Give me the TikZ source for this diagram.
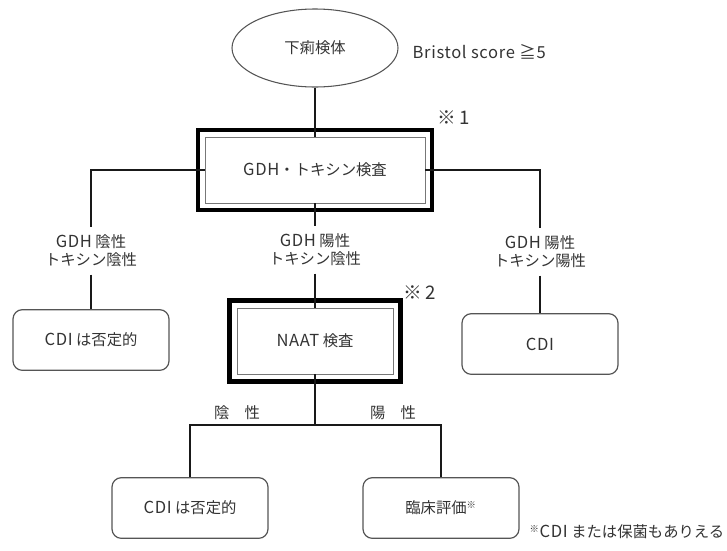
\documentclass[tikz,border=0pt]{standalone}
\usepackage{fontspec}
\setmainfont{Noto Sans CJK JP}
\newfontfamily\latinfont{Noto Sans CJK JP}[Scale=1.08, LetterSpace=4]
\newcommand\lt[1]{{\latinfont #1}}
\usetikzlibrary{positioning,shapes.geometric,fit}

\definecolor{ink}{HTML}{333333}
\definecolor{rim}{HTML}{555555}

\tikzset{
  every node/.style={text=ink, font=\fontsize{11.5}{13.5}\selectfont},
  specimen/.style={ellipse, draw=rim, line width=0.8pt, minimum width=124.5pt, minimum height=58.5pt},
  testbox/.style={draw=rim!80, line width=0.7pt, minimum height=49.5pt},
  frame/.style={draw=black, line width=3.2pt, inner sep=4.8pt},
  result/.style={draw=rim, line width=0.9pt, rounded corners=7pt, minimum width=117pt, minimum height=45.5pt},
  branch/.style={align=center, inner xsep=2pt, inner ysep=5.5pt},
  note/.style={font=\fontsize{14}{16}\selectfont},
  conn/.style={draw=black!90, line width=1.3pt}
}

\begin{document}
\begin{tikzpicture}[x=0.75pt, y=-0.75pt]
\useasboundingbox (0,0) rectangle (727,550);

% specimen
\node [specimen] (spec) at (315,48) {下痢検体};
\node [anchor=west] (bristol) at (408,52) {\lt{Bristol score ≧5}};

% first test
\node [testbox, minimum width=165pt] (gdh) at (315,170) {\lt{GDH}・トキシン検査};
\node [frame, fit=(gdh)] (gdhframe) {};
\node [note] (note1) at (454,118) {※\,1};

% results of the first test
\node [branch] (lneg) at (91,251) {\lt{GDH} 陰性\\トキシン陰性};
\node [branch] (lmid) at (315,250) {\lt{GDH} 陽性\\トキシン陰性};
\node [branch] (lpos) at (540,252) {\lt{GDH} 陽性\\トキシン陽性};

\node [result] (neg1) at (91,340) {\lt{CDI} は否定的};
\node [result] (cdi) at (540,344) {\lt{CDI}};

% second test
\node [testbox, minimum width=117pt] (naat) at (315,341) {\lt{NAAT} 検査};
\node [frame, fit=(naat), inner sep=5.2pt] (naatframe) {};
\node [note] (note2) at (420,293) {※\,2};

\coordinate (split) at (315,425);
\node (tneg) at (237,413) {陰\quad 性};
\node (tpos) at (393,413) {陽\quad 性};

\node [result] (neg2) at (190,508) {\lt{CDI} は否定的};
\node [result] (clin) at (441,508) {臨床評価\textsuperscript{\scriptsize ※}};
\node [anchor=west] (foot) at (525,532) {\textsuperscript{\scriptsize ※}\lt{CDI} または保菌もありえる};

% connectors
\draw [conn] (spec.south) -- (gdh.north);
\draw [conn] (gdh.west) -| (lneg.north);
\draw [conn] (gdh.east) -| (lpos.north);
\draw [conn] (gdh.south) -- (lmid.north);

\foreach \l/\b in {lneg/neg1, lmid/naat, lpos/cdi}
  \draw [conn] (\l.south) -- (\b.north);

\draw [conn] (naat.south) -- (split);
\foreach \b in {neg2, clin}
  \draw [conn] (split) -| (\b.north);

\end{tikzpicture}
\end{document}
